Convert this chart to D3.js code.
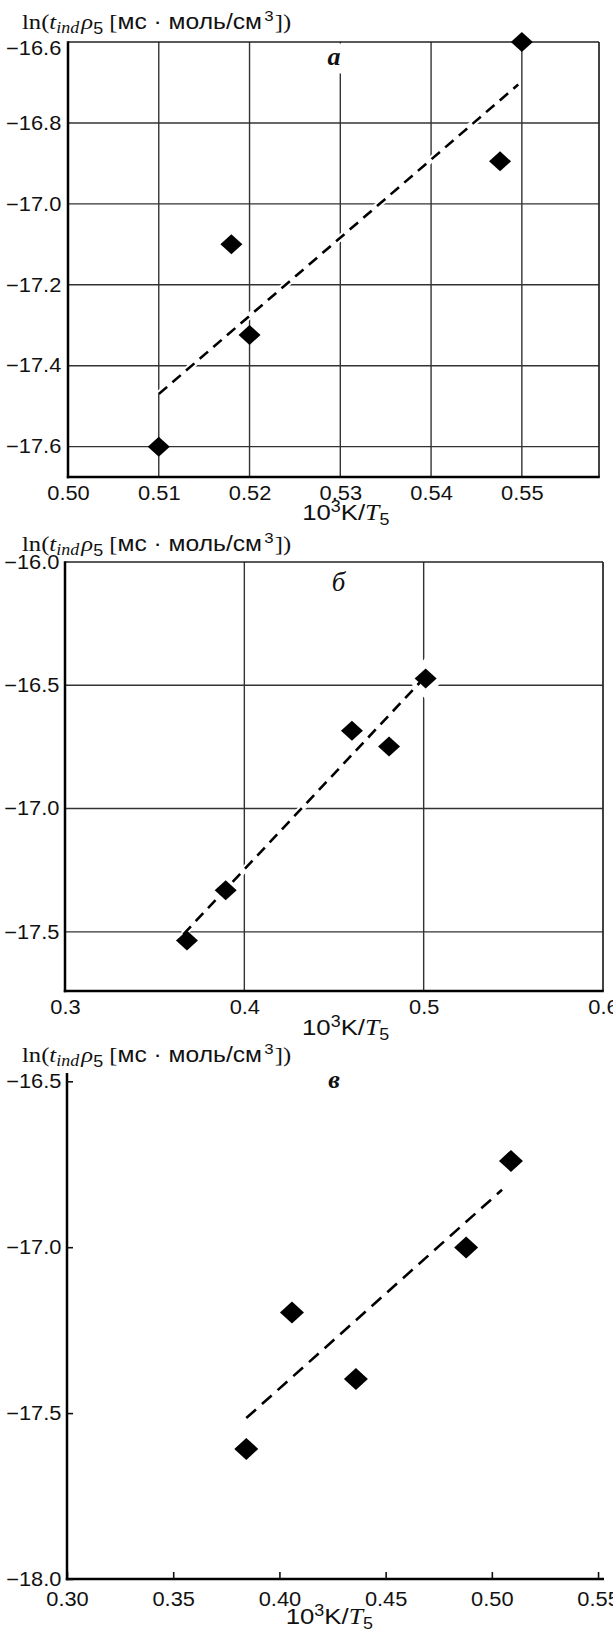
<!DOCTYPE html>
<html><head><meta charset="utf-8">
<script src="https://cdn.jsdelivr.net/npm/d3@7"></script>
<style>body{margin:0;background:#fff}svg{display:block}</style>
</head><body>
<svg id="c" width="613" height="1632"></svg>
<script>
// ---- data ----
const xA = [0.510, 0.518, 0.520, 0.5476, 0.550];
const yA = [-17.60, -17.10, -17.324, -16.895, -16.60];
const fitAx = [0.510, 0.5496];
const fitAy = [-17.47, -16.705];
const xTicksA = [0.50, 0.51, 0.52, 0.53, 0.54, 0.55];
const yTicksA = [-16.6, -16.8, -17.0, -17.2, -17.4, -17.6];

const xB = [0.368, 0.3896, 0.460, 0.4807, 0.5011];
const yB = [-17.535, -17.331, -16.684, -16.748, -16.473];
const fitBx = [0.366, 0.499];
const fitBy = [-17.51, -16.48];
const xTicksB = [0.3, 0.4, 0.5, 0.6];
const yTicksB = [-16.0, -16.5, -17.0, -17.5];

const xC = [0.3844, 0.4059, 0.436, 0.4879, 0.509];
const yC = [-17.608, -17.197, -17.397, -17.001, -16.74];
const fitCx = [0.3844, 0.5048];
const fitCy = [-17.515, -16.827];
const xTicksC = [0.30, 0.35, 0.40, 0.45, 0.50, 0.55];
const yTicksC = [-16.5, -17.0, -17.5, -18.0];

const panelLabels = ["а", "б", "в"];

// ---- drawing ----
const svg = d3.select("#c");
const SX = 1.12;
const sans = "'Liberation Sans', Arial, sans-serif";
const serif = "'Liberation Serif', 'Times New Roman', serif";

function stretch(sel) {
  sel.attr("transform", `scale(${SX},1)`);
}

function yTitle(g, x, y) {
  const s = 1.12;
  const t = g.append("text").attr("x", x).attr("y", y).attr("font-size", 22)
    .attr("fill", "#111")
    .attr("transform", `translate(${x},0) scale(${s},1) translate(${-x},0)`);
  t.append("tspan").attr("font-family", serif).text("ln(");
  t.append("tspan").attr("font-family", serif).attr("font-style", "italic").text("t");
  t.append("tspan").attr("font-family", serif).attr("font-style", "italic").attr("font-size", 16).attr("dy", 4).text("ind");
  t.append("tspan").attr("font-family", serif).attr("font-style", "italic").attr("dy", -4).attr("dx", 2).text("ρ");
  t.append("tspan").attr("font-family", sans).attr("font-size", 16).attr("dy", 5).text("5");
  t.append("tspan").attr("font-family", serif).attr("dy", -5).text(" [");
  t.append("tspan").attr("font-family", sans).text("мс · моль/см");
  t.append("tspan").attr("font-family", sans).attr("font-size", 15).attr("dy", -8).attr("dx", 2).text("3");
  t.append("tspan").attr("font-family", serif).attr("dy", 8).attr("dx", 1).text("])");
}

function xTitle(g, x, y) {
  const t = g.append("text").attr("x", x).attr("y", y).attr("font-size", 23)
    .attr("text-anchor", "middle").attr("fill", "#111")
    .attr("transform", `translate(${x},0) scale(${SX},1) translate(${-x},0)`);
  t.append("tspan").attr("font-family", sans).text("10");
  t.append("tspan").attr("font-family", sans).attr("font-size", 16).attr("dy", -8).text("3");
  t.append("tspan").attr("font-family", sans).attr("dy", 8).text("K/");
  t.append("tspan").attr("font-family", serif).attr("font-style", "italic").text("T");
  t.append("tspan").attr("font-family", sans).attr("font-size", 16).attr("dy", 5).text("5");
}

function diamond(cx, cy, hw, hh) {
  return `M${cx},${cy - hh}L${cx + hw},${cy}L${cx},${cy + hh}L${cx - hw},${cy}Z`;
}

function panel(cfg) {
  const g = svg.append("g");
  const x = d3.scaleLinear().domain(cfg.xDom).range(cfg.xRange);
  const y = d3.scaleLinear().domain(cfg.yDom).range(cfg.yRange);
  const [x0, x1] = cfg.xRange, [y0, y1] = cfg.yRange; // y0 bottom, y1 top

  if (cfg.box) {
    g.append("g").selectAll("line").data(cfg.gridX).join("line")
      .attr("x1", d => x(d)).attr("x2", d => x(d)).attr("y1", y1).attr("y2", y0)
      .attr("stroke", "#333").attr("stroke-width", 1.4);
    g.append("g").selectAll("line").data(cfg.gridY).join("line")
      .attr("y1", d => y(d)).attr("y2", d => y(d)).attr("x1", x0).attr("x2", x1)
      .attr("stroke", "#333").attr("stroke-width", 1.4);
  }

  if (cfg.labelGap) {
    g.append("rect").attr("x", x(cfg.labelGap) - 4).attr("width", 8)
      .attr("y", y1 + 1.5).attr("height", cfg.labelGapH).attr("fill", "#fff");
  }
  if (cfg.haloLast) {
    const n = cfg.xs.length - 1;
    g.append("path").attr("d", diamond(x(cfg.xs[n]), y(cfg.ys[n]), 19, 21)).attr("fill", "#fff");
  }

  const ax = d3.axisBottom(x).tickValues(cfg.xTicks).tickFormat(d => cfg.xFmt(d))
    .tickSizeInner(cfg.box ? 0 : -7).tickSizeOuter(0).tickPadding(cfg.xPad);
  const ay = d3.axisLeft(y).tickValues(cfg.yTicks).tickFormat(d => d3.format(".1f")(d))
    .tickSizeInner(cfg.box ? 0 : -6).tickSizeOuter(0).tickPadding(cfg.yPad);
  const gx = g.append("g").attr("transform", `translate(0,${y0})`).call(ax);
  const gy = g.append("g").attr("transform", `translate(${x0},0)`).call(ay);
  [gx, gy].forEach(a => {
    a.attr("font-family", sans).attr("font-size", 19.5);
    a.selectAll("text").attr("fill", "#111").call(stretch);
    a.selectAll(".tick line").attr("stroke", "#111").attr("stroke-width", 1.6);
  });
  if (cfg.topLabelShift) gy.selectAll(".tick text").filter((d, i) => i === 0).attr("dy", "0.62em");
  if (cfg.box) {
    gx.select(".domain").remove();
    gy.select(".domain").remove();
    g.append("line").attr("x1", x0).attr("x2", x1).attr("y1", y1).attr("y2", y1).attr("stroke", "#222").attr("stroke-width", 1.7);
    g.append("line").attr("x1", x1).attr("x2", x1).attr("y1", y1).attr("y2", y0).attr("stroke", "#222").attr("stroke-width", 1.7);
    g.append("line").attr("x1", x0).attr("x2", x0).attr("y1", y1 - 0.8).attr("y2", y0 + 1.2).attr("stroke", "#000").attr("stroke-width", 2.5);
    g.append("line").attr("x1", x0 - 1.2).attr("x2", x1 + 0.8).attr("y1", y0).attr("y2", y0).attr("stroke", "#000").attr("stroke-width", 2.5);
  } else {
    gx.select(".domain").attr("stroke", "#000").attr("stroke-width", 2.5).attr("d", `M${x0 - 1.2},0H${x1}`);
    gy.select(".domain").attr("stroke", "#000").attr("stroke-width", 2.5).attr("d", `M0,${y1}V${y0 + 1.2}`);
  }

  const fit = cfg.fitX.map((v, i) => [v, cfg.fitY[i]]);
  const line = d3.line().x(d => x(d[0])).y(d => y(d[1]));
  if (cfg.box) {
    g.append("path").attr("d", line(fit)).attr("stroke", "#fff").attr("stroke-width", 6.5).attr("fill", "none");
  }
  g.append("path").attr("d", line(fit)).attr("stroke", "#000").attr("stroke-width", 2.6)
    .attr("fill", "none").attr("stroke-dasharray", cfg.dash);

  g.append("g").selectAll("path").data(cfg.xs.map((v, i) => [v, cfg.ys[i]])).join("path")
    .attr("d", d => diamond(x(d[0]), y(d[1]), cfg.mw, cfg.mh)).attr("fill", "#000");

  g.append("text").attr("x", x(cfg.lab[0])).attr("y", y(cfg.lab[1]) + cfg.labDy)
    .attr("text-anchor", "middle").attr("font-family", serif).attr("font-style", "italic")
    .attr("font-weight", cfg.labBold ? "bold" : "normal").attr("font-size", cfg.labSize).attr("fill", "#111")
    .text(cfg.labText);

  yTitle(g, 22, cfg.yTitleY);
  xTitle(g, x(cfg.xTitleAt), y0 + cfg.xTitleDy);
}

panel({
  box: true, xDom: [0.50, 0.5585], xRange: [68, 599], yDom: [-17.675, -16.6], yRange: [477, 42],
  gridX: xTicksA.slice(1), gridY: yTicksA.slice(1), xTicks: xTicksA, yTicks: yTicksA,
  xFmt: d3.format(".2f"), xPad: 9, yPad: 6, topLabelShift: true,
  xs: xA, ys: yA, fitX: fitAx, fitY: fitAy, dash: "11,7", mw: 11, mh: 10,
  lab: [0.5293, -16.6], labDy: 23, labText: panelLabels[0], labBold: true, labSize: 26,
  labelGap: 0.53, labelGapH: 30,
  yTitleY: 29, xTitleAt: 0.5306, xTitleDy: 43
});

panel({
  box: true, xDom: [0.3, 0.6], xRange: [65, 603], yDom: [-17.74, -16.0], yRange: [991, 562],
  gridX: [0.4, 0.5], gridY: [-16.5, -17.0, -17.5], xTicks: xTicksB, yTicks: yTicksB,
  xFmt: d3.format(".1f"), xPad: 9, yPad: 5,
  xs: xB, ys: yB, fitX: fitBx, fitY: fitBy, dash: "11,7", mw: 11, mh: 10, haloLast: true,
  lab: [0.4525, -16.085], labDy: 8, labText: panelLabels[1], labBold: false, labSize: 27,
  yTitleY: 551, xTitleAt: 0.4565, xTitleDy: 44
});

panel({
  box: false, xDom: [0.30, 0.5528], xRange: [67, 604], yDom: [-18.0, -16.475], yRange: [1579, 1073],
  xTicks: xTicksC, yTicks: yTicksC,
  xFmt: d3.format(".2f"), xPad: 13, yPad: 5,
  xs: xC, ys: yC, fitX: fitCx, fitY: fitCy, dash: "13,8", mw: 12, mh: 11,
  lab: [0.4257, -16.5], labDy: 7, labText: panelLabels[2], labBold: true, labSize: 26,
  yTitleY: 1062, xTitleAt: 0.4235, xTitleDy: 45
});
</script>
</body></html>
